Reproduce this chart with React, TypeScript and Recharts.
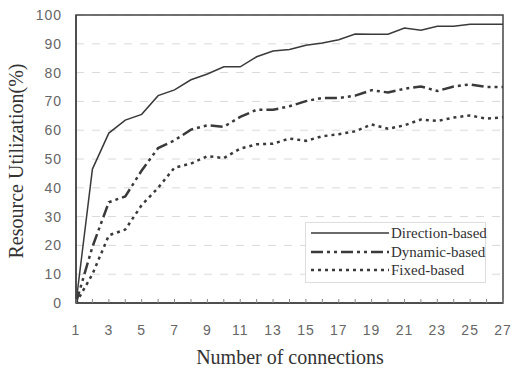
import React from 'react';
import { LineChart, Line, XAxis, YAxis, CartesianGrid, ReferenceArea } from 'recharts';

const connections = [1, 2, 3, 4, 5, 6, 7, 8, 9, 10, 11, 12, 13, 14, 15, 16, 17, 18, 19, 20, 21, 22, 23, 24, 25, 26, 27];
const directionBased = [0, 46.5, 59, 63.5, 65.5, 72, 74, 77.5, 79.5, 82, 82, 85.5, 87.5, 88, 89.5, 90.3, 91.4, 93.4, 93.3, 93.3, 95.5, 94.7, 96.1, 96.1, 96.8, 96.8, 96.8];
const dynamicBased = [0, 19.5, 35, 37, 46, 53.8, 56.5, 60.2, 61.7, 61.2, 64.6, 67.1, 67.1, 68.3, 70.1, 71.2, 71.2, 72, 73.9, 73.1, 74.4, 75.2, 73.6, 75.2, 75.9, 75, 75];
const fixedBased = [0, 10, 23.5, 25.5, 34, 40, 47, 48.4, 51, 50.3, 53.6, 55.1, 55.3, 57.1, 56.3, 57.9, 58.6, 59.6, 62, 60.5, 61.7, 63.7, 63.2, 64.4, 65.1, 64, 64.5];
const yTicks = [0, 10, 20, 30, 40, 50, 60, 70, 80, 90, 100];
const seriesNames = ['Direction-based', 'Dynamic-based', 'Fixed-based'];

const data = connections.map((c, i) => ({
  x: c,
  direction: directionBased[i],
  dynamic: dynamicBased[i],
  fixed: fixedBased[i],
}));

const LINE = '#3a3a3a';
const dashes = ['', '12 4 3 4 3 4', '3 4'];
const widths = [1.5, 2.5, 2.5];

const XTick = (props: any) => {
  const { x, y, payload } = props;
  const v = payload.value;
  return (
    <g>
      <line x1={x} x2={x} y1={y} y2={y - 4} stroke="#888" strokeWidth={1} />
      {v % 2 === 1 ? (
        <text x={x} y={y + 32} textAnchor="middle" fill="#666" fontFamily="Arial, 'Liberation Sans', sans-serif" fontSize={14} letterSpacing={1}>
          {v}
        </text>
      ) : null}
    </g>
  );
};

const LegendBox = () => (
  <div
    style={{
      position: 'absolute',
      left: 305,
      top: 222,
      width: 181,
      height: 61,
      border: '1px solid #ddd',
      boxSizing: 'border-box',
      background: '#fff',
      fontFamily: "'Liberation Serif', 'Times New Roman', serif",
      fontSize: 15,
      color: '#333',
      paddingTop: 1,
    }}
  >
    {seriesNames.map((n, i) => (
      <div key={n} style={{ display: 'flex', alignItems: 'center', height: 18.5, lineHeight: '18px' }}>
        <svg width={80} height={10} style={{ marginLeft: 5, flex: 'none' }}>
          <line x1={0} x2={78} y1={5} y2={5} stroke={LINE} strokeWidth={widths[i]} strokeDasharray={dashes[i]} />
        </svg>
        <span style={{ whiteSpace: 'nowrap' }}>{n}</span>
      </div>
    ))}
  </div>
);

export default function App() {
  return (
    <div style={{ position: 'absolute', left: 0, top: 0, width: 512, height: 374, background: '#fff' }}>
      <LineChart width={512} height={374} data={data} margin={{ top: 15, right: 9, bottom: 0, left: 0 }}>
        <CartesianGrid vertical={false} stroke="#d8d8d8" strokeDasharray="8 8" />
        <XAxis
          dataKey="x"
          type="number"
          domain={[1, 27]}
          ticks={connections}
          interval={0}
          height={71}
          tickSize={0}
          tickMargin={0}
          tick={<XTick />}
          axisLine={{ stroke: '#444', strokeWidth: 1.5 }}
          label={{
            content: () => (
              <text x={290} y={364} textAnchor="middle" fill="#333" fontFamily="'Liberation Serif', 'Times New Roman', serif" fontSize={20}>
                Number of connections
              </text>
            ),
          }}
        />
        <YAxis
          domain={[0, 100]}
          ticks={yTicks}
          interval={0}
          width={76}
          tickSize={0}
          tickMargin={14}
          tickLine={false}
          axisLine={{ stroke: '#444', strokeWidth: 1.5 }}
          tick={{ fill: '#666', fontSize: 14, fontFamily: "Arial, 'Liberation Sans', sans-serif", letterSpacing: 1 }}
          label={{
            content: () => (
              <text x={23} y={161} transform="rotate(-90 23 161)" textAnchor="middle" fill="#333" fontFamily="'Liberation Serif', 'Times New Roman', serif" fontSize={20}>
                Resource Utilization(%)
              </text>
            ),
          }}
        />
        <ReferenceArea x1={1} x2={27} y1={0} y2={100} fill="none" stroke="#444" strokeWidth={1.5} />
        <Line dataKey="direction" name={seriesNames[0]} stroke={LINE} strokeWidth={widths[0]} dot={false} isAnimationActive={false} />
        <Line dataKey="dynamic" name={seriesNames[1]} stroke={LINE} strokeWidth={widths[1]} strokeDasharray={dashes[1]} dot={false} isAnimationActive={false} />
        <Line dataKey="fixed" name={seriesNames[2]} stroke={LINE} strokeWidth={widths[2]} strokeDasharray={dashes[2]} dot={false} isAnimationActive={false} />
      </LineChart>
      <LegendBox />
    </div>
  );
}
